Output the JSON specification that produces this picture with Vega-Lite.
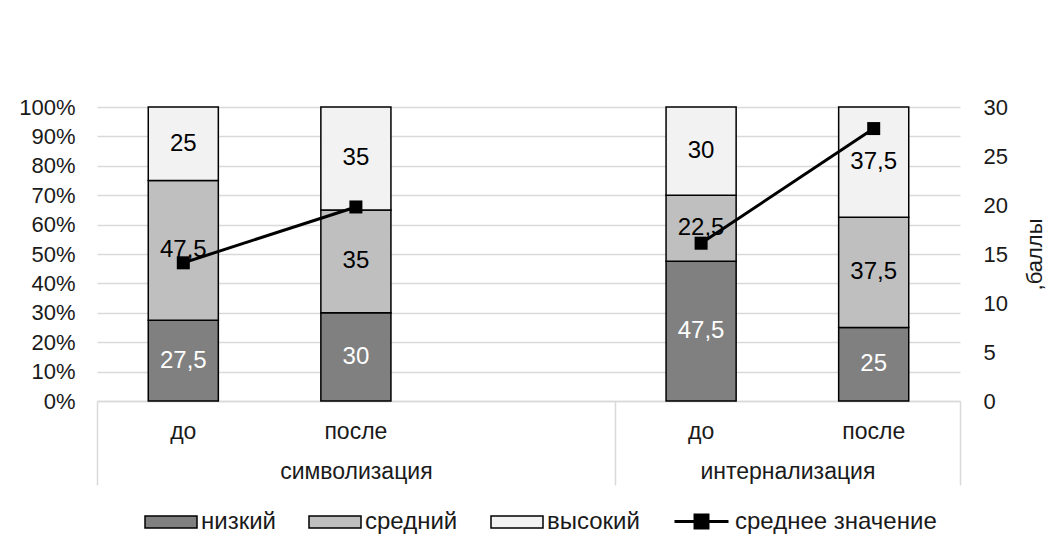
{
  "$schema": "https://vega.github.io/schema/vega-lite/v6.json",
  "width": 863,
  "height": 294,
  "autosize": {"type": "none"},
  "padding": {"left": 97, "top": 107, "right": 88, "bottom": 151},
  "background": "white",
  "config": {
    "font": "Liberation Sans",
    "view": {"stroke": null},
    "locale": {"number": {"decimal": ",", "thousands": " ", "grouping": [3], "currency": ["", ""]}},
    "axis": {"labelColor": "#1a1a1a", "titleColor": "#1a1a1a", "labelFont": "Liberation Sans", "titleFont": "Liberation Sans"},
    "legend": {"labelColor": "#1a1a1a", "labelFont": "Liberation Sans"}
  },
  "datasets": {
    "bars": [
      {"slot": "символизация до", "group": "символизация", "series": "низкий", "rank": 1, "value": 27.5},
      {"slot": "символизация до", "group": "символизация", "series": "средний", "rank": 2, "value": 47.5},
      {"slot": "символизация до", "group": "символизация", "series": "высокий", "rank": 3, "value": 25},
      {"slot": "символизация после", "group": "символизация", "series": "низкий", "rank": 1, "value": 30},
      {"slot": "символизация после", "group": "символизация", "series": "средний", "rank": 2, "value": 35},
      {"slot": "символизация после", "group": "символизация", "series": "высокий", "rank": 3, "value": 35},
      {"slot": "интернализация до", "group": "интернализация", "series": "низкий", "rank": 1, "value": 47.5},
      {"slot": "интернализация до", "group": "интернализация", "series": "средний", "rank": 2, "value": 22.5},
      {"slot": "интернализация до", "group": "интернализация", "series": "высокий", "rank": 3, "value": 30},
      {"slot": "интернализация после", "group": "интернализация", "series": "низкий", "rank": 1, "value": 25},
      {"slot": "интернализация после", "group": "интернализация", "series": "средний", "rank": 2, "value": 37.5},
      {"slot": "интернализация после", "group": "интернализация", "series": "высокий", "rank": 3, "value": 37.5}
    ],
    "means": [
      {"slot": "символизация до", "group": "символизация", "mean": 14.1},
      {"slot": "символизация после", "group": "символизация", "mean": 19.8},
      {"slot": "интернализация до", "group": "интернализация", "mean": 16.1},
      {"slot": "интернализация после", "group": "интернализация", "mean": 27.8}
    ],
    "groups": [
      {"group": "символизация", "start": 0, "end": 3},
      {"group": "интернализация", "start": 3, "end": 5}
    ]
  },
  "layer": [
    {
      "data": {"name": "bars"},
      "mark": {"type": "bar", "stroke": "black", "strokeWidth": 1.5},
      "encoding": {
        "x": {
          "field": "slot", "type": "nominal", "sort": null,
          "scale": {"type": "band", "domain": ["символизация до", "символизация после", "пусто", "интернализация до", "интернализация после"], "paddingInner": 0.594, "paddingOuter": 0.297},
          "axis": {"title": null, "labelExpr": "indexof(datum.value, ' ') > 0 ? split(datum.value, ' ')[1] : ''", "ticks": false, "domain": true, "domainColor": "#d9d9d9", "domainWidth": 1.5, "labelFontSize": 23, "labelPadding": 30, "labelBaseline": "middle", "labelAngle": 0, "grid": false}
        },
        "y": {
          "field": "value", "type": "quantitative", "stack": "normalize",
          "scale": {"domain": [0, 1]},
          "axis": {"title": null, "format": ".0%", "values": [0, 0.1, 0.2, 0.3, 0.4, 0.5, 0.6, 0.7, 0.8, 0.9, 1], "grid": true, "gridColor": "#d9d9d9", "gridWidth": 1.5, "domain": false, "ticks": false, "labelPadding": 22, "labelFontSize": 22}
        },
        "fill": {
          "field": "series", "type": "nominal",
          "scale": {"domain": ["низкий", "средний", "высокий"], "range": ["#808080", "#bfbfbf", "#f2f2f2"]},
          "legend": {"orient": "none", "legendX": 47, "legendY": 388, "direction": "horizontal", "title": null, "symbolType": "M-1,-0.23H1V0.23H-1Z", "symbolSize": 2704, "symbolStrokeColor": "black", "symbolStrokeWidth": 1.5, "symbolOpacity": 1, "labelFontSize": 24, "labelOffset": 3, "columnPadding": 30, "labelLimit": 400}
        },
        "order": {"field": "rank", "type": "quantitative"}
      }
    },
    {
      "data": {"name": "bars"},
      "mark": {"type": "text", "fontSize": 24, "baseline": "middle"},
      "encoding": {
        "x": {
          "field": "slot", "type": "nominal", "sort": null,
          "scale": {"type": "band", "domain": ["символизация до", "символизация после", "пусто", "интернализация до", "интернализация после"], "paddingInner": 0.594, "paddingOuter": 0.297},
          "axis": null
        },
        "y": {"field": "value", "type": "quantitative", "stack": "normalize", "bandPosition": 0.5, "scale": {"domain": [0, 1]}, "axis": null},
        "detail": {"field": "series"},
        "order": {"field": "rank", "type": "quantitative"},
        "text": {"field": "value", "type": "quantitative", "format": ".1~f"},
        "fill": {"condition": {"test": "datum.series === 'низкий'", "value": "white"}, "value": "black"}
      }
    },
    {
      "data": {"name": "means"},
      "mark": {"type": "line", "strokeWidth": 3},
      "encoding": {
        "x": {
          "field": "slot", "type": "nominal", "sort": null, "bandPosition": 0.5,
          "scale": {"type": "band", "domain": ["символизация до", "символизация после", "пусто", "интернализация до", "интернализация после"], "paddingInner": 0.594, "paddingOuter": 0.297},
          "axis": null
        },
        "y": {
          "field": "mean", "type": "quantitative",
          "scale": {"domain": [0, 30]},
          "axis": {"orient": "right", "title": ",баллы", "titleAngle": 270, "titleFontSize": 22, "titleFontWeight": "normal", "titlePadding": 39, "values": [0, 5, 10, 15, 20, 25, 30], "grid": false, "domain": false, "ticks": false, "labelPadding": 23, "labelFontSize": 22}
        },
        "detail": {"field": "group"},
        "stroke": {
          "datum": "среднее значение",
          "scale": {"range": ["black"]},
          "legend": {"orient": "none", "legendX": 576, "legendY": 386, "title": null, "symbolType": "M-1,0H1M-0.24,-0.24H0.24V0.24H-0.24Z", "symbolSize": 2916, "symbolFillColor": "black", "symbolStrokeWidth": 3, "symbolOpacity": 1, "labelFontSize": 24, "labelOffset": 5, "labelLimit": 400}
        }
      }
    },
    {
      "data": {"name": "means"},
      "mark": {"type": "point", "shape": "square", "filled": true, "fill": "black", "size": 169, "opacity": 1},
      "encoding": {
        "x": {
          "field": "slot", "type": "nominal", "sort": null, "bandPosition": 0.5,
          "scale": {"type": "band", "domain": ["символизация до", "символизация после", "пусто", "интернализация до", "интернализация после"], "paddingInner": 0.594, "paddingOuter": 0.297},
          "axis": null
        },
        "y": {"field": "mean", "type": "quantitative", "scale": {"domain": [0, 30]}, "axis": null}
      }
    },
    {
      "data": {"name": "groups"},
      "mark": {"type": "point", "opacity": 0},
      "encoding": {
        "x": {
          "field": "start", "type": "quantitative",
          "scale": {"domain": [0, 5], "nice": false, "zero": false},
          "axis": {"orient": "bottom", "title": null, "values": [0, 1.5, 3, 4, 5], "labelExpr": "datum.value == 1.5 ? 'символизация' : datum.value == 4 ? 'интернализация' : ''", "domain": false, "grid": false, "ticks": true, "tickSize": 84, "tickColor": "#d9d9d9", "tickWidth": 1.5, "tickOpacity": {"condition": {"test": "datum.value == 1.5 || datum.value == 4", "value": 0}, "value": 1}, "labelPadding": -14, "labelBaseline": "middle", "labelFontSize": 23, "labelFlush": false, "labelOverlap": false, "labelBound": false}
        }
      }
    }
  ],
  "resolve": {"scale": {"x": "independent", "y": "independent"}}
}
